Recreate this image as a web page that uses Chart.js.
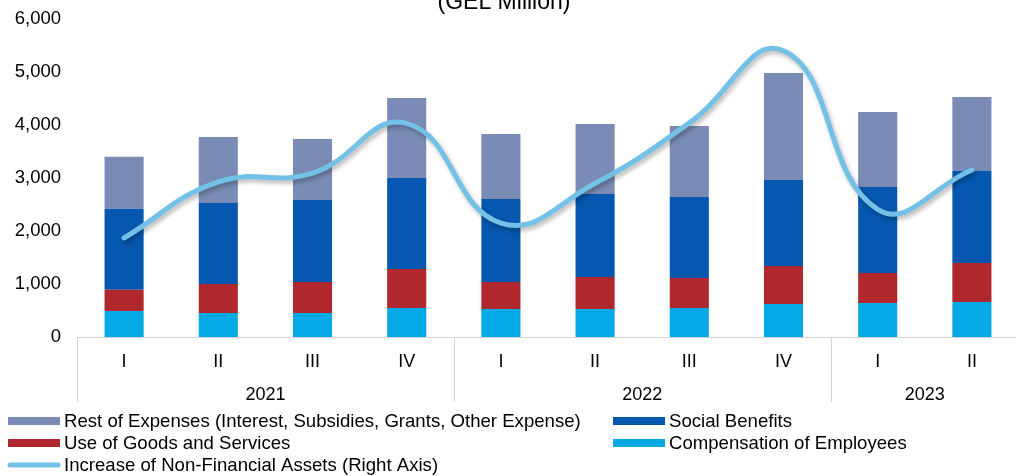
<!DOCTYPE html>
<html>
<head>
<meta charset="utf-8">
<script src="https://cdn.jsdelivr.net/npm/chart.js@4/dist/chart.umd.min.js"></script>
<style>
html,body{margin:0;padding:0;overflow:hidden;background:#fff;width:1016px;height:476px;}
#wrap{position:absolute;left:0;top:0;width:1019px;height:476px;}
</style>
</head>
<body>
<div id="wrap"><canvas id="c" width="1019" height="476"></canvas></div>
<script>
const quarters = ['I','II','III','IV','I','II','III','IV','I','II'];
const years = ['2021','2021','2021','2021','2022','2022','2022','2022','2023','2023'];
const compensation = [490, 453, 453, 547, 528, 528, 547, 623, 642, 660];
const goodsServices = [400, 547, 585, 736, 510, 604, 566, 717, 566, 736];
const socialBenefits = [1530, 1528, 1547, 1717, 1566, 1566, 1529, 1622, 1622, 1736];
const restExpenses = [980, 1246, 1151, 1509, 1226, 1321, 1339, 2019, 1415, 1396];
const nonFinAssets = [374, 585, 618, 806, 430, 580, 808, 1080, 482, 630];
const yTicks = [0, 1000, 2000, 3000, 4000, 5000, 6000];
const titleText = '(GEL Million)';

const FONT = '"Liberation Sans", Arial, sans-serif';
const C_REST = '#7A8CB6', C_SOC = '#0557AF', C_GOODS = '#B0282E', C_COMP = '#05A9E5', C_LINE = '#74C1E8';

const legendItems = [
  {label:'Rest of Expenses (Interest, Subsidies, Grants, Other Expense)', color:C_REST, type:'box', col:0, row:0},
  {label:'Social Benefits', color:C_SOC, type:'box', col:1, row:0},
  {label:'Use of Goods and Services', color:C_GOODS, type:'box', col:0, row:1},
  {label:'Compensation of Employees', color:C_COMP, type:'box', col:1, row:1},
  {label:'Increase of Non-Financial Assets (Right Axis)', color:C_LINE, type:'line', col:0, row:2}
];

const decor = {
  id:'decor',
  beforeDatasetDraw(chart, args){
    if (args.meta.type === 'line') {
      const ctx = chart.ctx;
      ctx.save();
      ctx.shadowColor = 'rgba(0,0,0,0.28)';
      ctx.shadowBlur = 4;
      ctx.shadowOffsetX = 2;
      ctx.shadowOffsetY = 3;
    }
  },
  afterDatasetDraw(chart, args){
    if (args.meta.type === 'line') chart.ctx.restore();
  },
  afterDraw(chart){
    const ctx = chart.ctx, x = chart.scales.x, area = chart.chartArea;
    ctx.save();
    // title
    ctx.fillStyle = '#000';
    ctx.font = '23px ' + FONT;
    ctx.textAlign = 'center';
    ctx.textBaseline = 'alphabetic';
    ctx.fillText(titleText, 504, 9);
    // group dividers and year labels
    const half = (x.getPixelForValue(1) - x.getPixelForValue(0)) / 2;
    ctx.strokeStyle = '#D4D4D4';
    ctx.lineWidth = 1;
    let start = 0;
    const groups = [];
    for (let i = 1; i <= years.length; i++) {
      if (i === years.length || years[i] !== years[start]) { groups.push([start, i-1]); start = i; }
    }
    ctx.font = '18px ' + FONT;
    ctx.textBaseline = 'middle';
    groups.forEach(([a,b]) => {
      const left = x.getPixelForValue(a) - half;
      ctx.beginPath();
      ctx.moveTo(Math.round(left)+0.5, area.bottom);
      ctx.lineTo(Math.round(left)+0.5, 402);
      ctx.stroke();
      ctx.fillText(years[a], (x.getPixelForValue(a) + x.getPixelForValue(b)) / 2, 395);
    });
    // legend
    ctx.textAlign = 'left';
    ctx.font = '18.6px ' + FONT;
    const colX = [8, 613], rowY = [421, 443, 465];
    legendItems.forEach(it => {
      const bx = colX[it.col], by = rowY[it.row];
      if (it.type === 'box') {
        ctx.fillStyle = it.color;
        ctx.fillRect(bx, by - 4, 52, 8);
      } else {
        ctx.strokeStyle = it.color;
        ctx.lineWidth = 5;
        ctx.lineCap = 'round';
        ctx.beginPath();
        ctx.moveTo(bx + 2, by);
        ctx.lineTo(bx + 50, by);
        ctx.stroke();
      }
      ctx.fillStyle = '#000';
      ctx.fillText(it.label, bx + 56, by + 1);
    });
    ctx.restore();
  }
};

new Chart(document.getElementById('c'), {
  data: {
    labels: quarters,
    datasets: [
      {type:'line', label:'Increase of Non-Financial Assets (Right Axis)', data:nonFinAssets, yAxisID:'y1', borderColor:C_LINE, borderWidth:5, pointRadius:0, tension:0.45, fill:false, order:0, stack:'line', borderCapStyle:'round'},
      {type:'bar', label:'Compensation of Employees', data:compensation, backgroundColor:C_COMP, yAxisID:'y', stack:'s', order:1},
      {type:'bar', label:'Use of Goods and Services', data:goodsServices, backgroundColor:C_GOODS, yAxisID:'y', stack:'s', order:1},
      {type:'bar', label:'Social Benefits', data:socialBenefits, backgroundColor:C_SOC, yAxisID:'y', stack:'s', order:1},
      {type:'bar', label:'Rest of Expenses (Interest, Subsidies, Grants, Other Expense)', data:restExpenses, backgroundColor:C_REST, yAxisID:'y', stack:'s', order:1}
    ]
  },
  options: {
    responsive:false,
    animation:false,
    devicePixelRatio:1,
    layout:{padding:{top:19, right:0, left:0, bottom:0}},
    datasets:{bar:{barPercentage:0.415, categoryPercentage:1}},
    plugins:{legend:{display:false}, tooltip:{enabled:false}, title:{display:false}},
    scales:{
      x:{
        stacked:true,
        grid:{display:false, drawTicks:false},
        border:{display:true, color:'#D4D4D4', width:1},
        ticks:{color:'#000', font:{family:FONT, size:18}, padding:14, maxRotation:0, autoSkip:false},
        afterFit(s){ s.height = 139; }
      },
      y:{
        stacked:true,
        min:0, max:6000,
        grid:{display:false, drawTicks:true, tickLength:16},
        border:{display:false},
        afterBuildTicks(s){ s.ticks = yTicks.map(v => ({value:v})); },
        ticks:{color:'#000', font:{family:FONT, size:18.5}, padding:0, callback:v => v.toLocaleString('en-US')},
        afterFit(s){ s.width = 77; }
      },
      y1:{
        display:false, position:'right', stacked:false, min:0, max:1200
      }
    }
  },
  plugins:[decor]
});
</script>
</body>
</html>
